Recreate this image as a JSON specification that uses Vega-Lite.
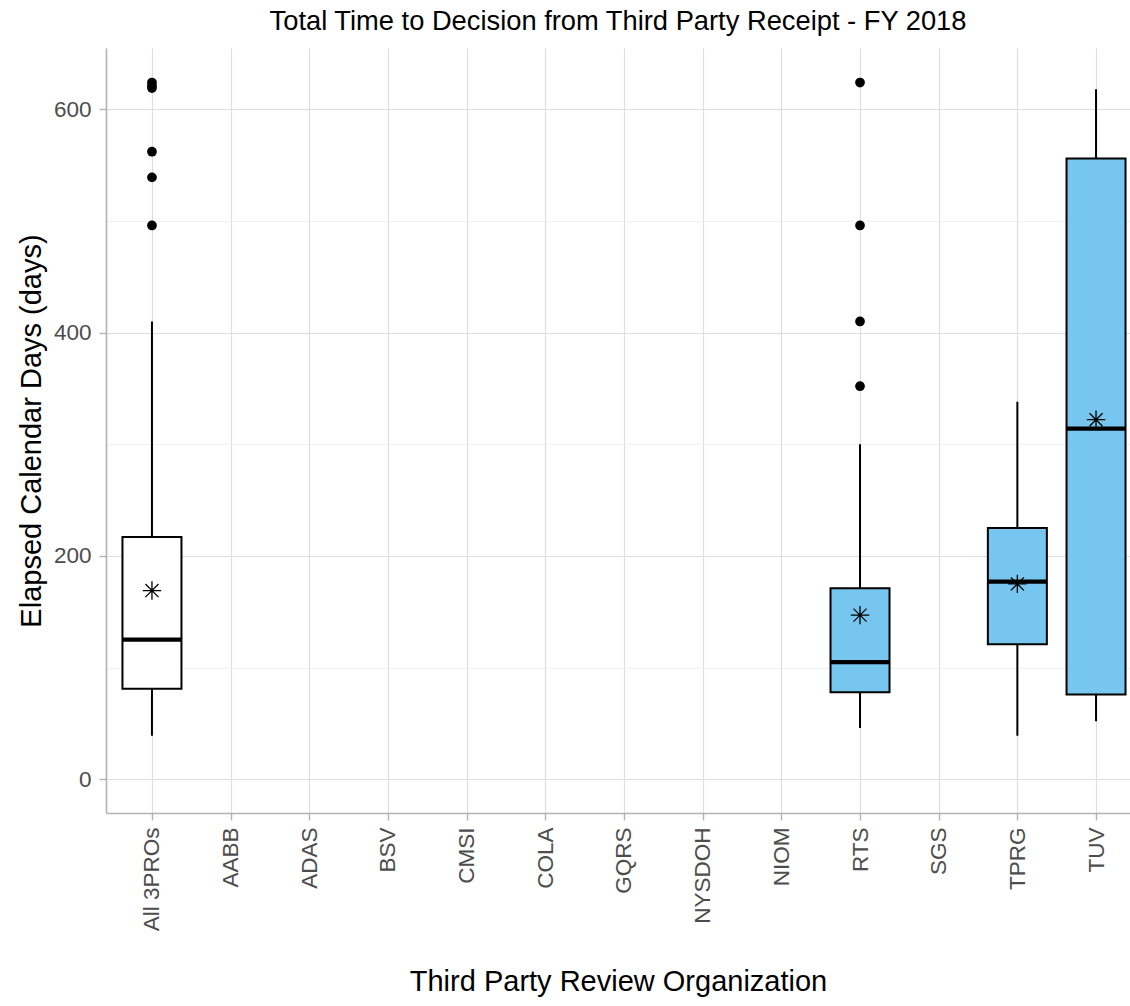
{
  "$schema": "https://vega.github.io/schema/vega-lite/v6.json",
  "width": 1024,
  "height": 765,
  "autosize": {"type": "none"},
  "padding": {"left": 106, "top": 48, "right": 0, "bottom": 193},
  "background": "white",
  "config": {
    "view": {"stroke": null},
    "font": "Liberation Sans",
    "axis": {"domainColor": "#B3B3B3", "domainWidth": 1.6, "tickColor": "#B3B3B3", "tickWidth": 1.4, "tickSize": 7,
             "labelColor": "#4D4D4D", "labelFontSize": 22.5, "titleFontSize": 29, "titleFontWeight": "normal", "titleColor": "black",
             "gridColor": "#DEDEDE", "gridWidth": 1.2}
  },
  "title": {"text": "Total Time to Decision from Third Party Receipt - FY 2018", "fontSize": 27.3, "fontWeight": "normal", "anchor": "middle", "offset": 13},
  "datasets": {
    "boxes": [
      {"org": "All 3PROs", "lower": 39, "q1": 81, "median": 125, "q3": 217, "upper": 410, "mean": 169},
      {"org": "RTS", "lower": 46, "q1": 78, "median": 105, "q3": 171, "upper": 300, "mean": 147},
      {"org": "TPRG", "lower": 39, "q1": 121, "median": 177, "q3": 225, "upper": 338, "mean": 175},
      {"org": "TUV", "lower": 52, "q1": 76, "median": 314, "q3": 556, "upper": 618, "mean": 322}
    ],
    "outliers": [
      {"org": "All 3PROs", "days": 624},
      {"org": "All 3PROs", "days": 621},
      {"org": "All 3PROs", "days": 619},
      {"org": "All 3PROs", "days": 562},
      {"org": "All 3PROs", "days": 539},
      {"org": "All 3PROs", "days": 496},
      {"org": "RTS", "days": 624},
      {"org": "RTS", "days": 496},
      {"org": "RTS", "days": 410},
      {"org": "RTS", "days": 352}
    ]
  },
  "encoding": {
    "x": {
      "field": "org", "type": "nominal", "title": "Third Party Review Organization",
      "scale": {"type": "point", "padding": 0.508, "align": 0.575,
                "domain": ["All 3PROs", "AABB", "ADAS", "BSV", "CMSI", "COLA", "GQRS", "NYSDOH", "NIOM", "RTS", "SGS", "TPRG", "TUV"]},
      "axis": {"labelAngle": 270, "labelPadding": 7, "titlePadding": 37, "grid": true}
    }
  },
  "layer": [
    {
      "data": {"name": "boxes"},
      "mark": {"type": "rule", "color": "black", "strokeWidth": 2},
      "encoding": {
        "y": {"field": "lower", "type": "quantitative", "title": "Elapsed Calendar Days (days)",
              "scale": {"domain": [-30.2, 654.9], "nice": false, "zero": false},
              "axis": {"values": [0, 100, 200, 300, 400, 500, 600], "labelPadding": 8, "titlePadding": 7,
                       "labelExpr": "datum.value % 200 === 0 ? datum.label : ''",
                       "gridColor": {"condition": {"test": "datum.value % 200 === 0", "value": "#DEDEDE"}, "value": "#EDEDED"},
                       "gridWidth": {"condition": {"test": "datum.value % 200 === 0", "value": 1.2}, "value": 0.8},
                       "tickOpacity": {"condition": {"test": "datum.value % 200 === 0", "value": 1}, "value": 0}}},
        "y2": {"field": "upper"}
      }
    },
    {
      "data": {"name": "boxes"},
      "mark": {"type": "bar", "width": 59, "stroke": "black", "strokeWidth": 2},
      "encoding": {
        "y": {"field": "q1", "type": "quantitative"},
        "y2": {"field": "q3"},
        "fill": {"condition": {"test": "datum.org === 'All 3PROs'", "value": "white"}, "value": "#76C6EF"}
      }
    },
    {
      "data": {"name": "boxes"},
      "mark": {"type": "tick", "color": "black", "size": 59, "thickness": 4.2, "opacity": 1},
      "encoding": {
        "y": {"field": "median", "type": "quantitative"}
      }
    },
    {
      "data": {"name": "outliers"},
      "mark": {"type": "point", "filled": true, "color": "black", "size": 95, "opacity": 1},
      "encoding": {
        "y": {"field": "days", "type": "quantitative"}
      }
    },
    {
      "data": {"name": "boxes"},
      "mark": {"type": "point", "filled": false, "color": "black", "strokeWidth": 1.3, "size": 340, "opacity": 1,
               "shape": "M-1,0L1,0M0,-1L0,1M-0.707,-0.707L0.707,0.707M-0.707,0.707L0.707,-0.707"},
      "encoding": {
        "y": {"field": "mean", "type": "quantitative"}
      }
    },
    {
      "mark": {"type": "rule", "color": "#B3B3B3", "strokeWidth": 1.6},
      "encoding": {"y": {"datum": 654.9}}
    }
  ]
}
